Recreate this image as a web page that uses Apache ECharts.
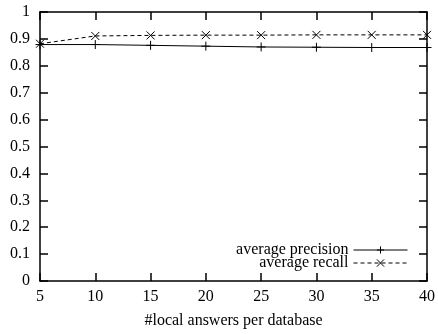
<!DOCTYPE html>
<html><head><meta charset="utf-8">
<script src="https://cdn.jsdelivr.net/npm/echarts@6/dist/echarts.min.js"></script>
<style>html,body{margin:0;padding:0;background:#fff}#c{width:438px;height:334px}</style>
</head><body><div id="c"></div>
<script>
var xValues = [5, 10, 15, 20, 25, 30, 35, 40];
var precision = [0.879, 0.879, 0.876, 0.873, 0.870, 0.869, 0.868, 0.868];
var recall = [0.882, 0.911, 0.913, 0.914, 0.914, 0.915, 0.915, 0.915];
var seriesNames = ['average precision', 'average recall'];
var xTitle = '#local answers per database';

var FONT = 'Liberation Serif';
var FS = 16;
var chart = echarts.init(document.getElementById('c'));
function pairs(v){ return xValues.map(function(x,i){ return [x, v[i]]; }); }
var plusPath = 'path://M5,0L5,10M0,5L10,5';
var crossPath = 'path://M0,0L10,10M10,0L0,10';
var axisLine = {show:true, onZero:false, lineStyle:{color:'#000', width:1.5}};
var tick = {show:true, inside:true, length:8, lineStyle:{color:'#000', width:1.5}};
chart.setOption({
  animation:false,
  grid:{left:40, right:11, top:12, bottom:53, containLabel:false, outerBoundsMode:'none'},
  legend:{
    orient:'vertical', right:25, top:237, align:'right', itemWidth:54, itemHeight:9, itemGap:-3,
    textStyle:{fontFamily:FONT, fontSize:FS, color:'#000'},
    lineStyle:{width:1}, itemStyle:{borderWidth:1},
    data:seriesNames
  },
  xAxis:[{
    type:'value', min:5, max:40, interval:5, position:'bottom',
    axisLine:axisLine, axisTick:tick, splitLine:{show:false},
    axisLabel:{fontFamily:FONT, fontSize:FS, color:'#000', margin:8},
    name:xTitle, nameLocation:'middle', nameGap:32,
    nameTextStyle:{fontFamily:FONT, fontSize:FS, color:'#000'}
  },{
    type:'value', min:5, max:40, interval:5, position:'top',
    axisLine:axisLine, axisTick:tick, splitLine:{show:false}, axisLabel:{show:false}
  }],
  yAxis:[{
    type:'value', min:0, max:1, interval:0.1, position:'left',
    axisLine:axisLine, axisTick:tick, splitLine:{show:false},
    axisLabel:{fontFamily:FONT, fontSize:FS, color:'#000', margin:10}
  },{
    type:'value', min:0, max:1, interval:0.1, position:'right',
    axisLine:axisLine, axisTick:tick, splitLine:{show:false}, axisLabel:{show:false}
  }],
  series:[{
    name:seriesNames[0], type:'line', data:pairs(precision),
    symbol:plusPath, symbolSize:9, showAllSymbol:true, clip:false,
    lineStyle:{color:'#000', width:1, type:'solid'},
    itemStyle:{color:'#000', borderColor:'#000', borderWidth:1}
  },{
    name:seriesNames[1], type:'line', data:pairs(recall),
    symbol:crossPath, symbolSize:8, showAllSymbol:true, clip:false,
    lineStyle:{color:'#000', width:1, type:[4,3]},
    itemStyle:{color:'#000', borderColor:'#000', borderWidth:1}
  }]
});
</script></body></html>
